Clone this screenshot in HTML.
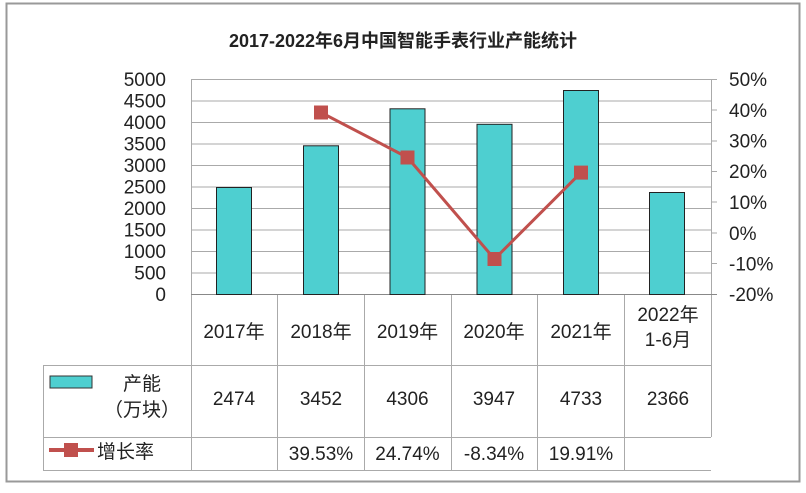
<!DOCTYPE html>
<html><head><meta charset="utf-8"><style>
body{margin:0;background:#fff;}
svg text{font-family:"Liberation Sans","Noto Sans CJK SC",sans-serif;fill:#222;}
</style></head><body>
<svg width="806" height="488" xmlns="http://www.w3.org/2000/svg">
<rect x="0" y="0" width="806" height="488" fill="#fff"/>
<rect x="6.5" y="3.5" width="793" height="478" fill="none" stroke="#999" stroke-width="2"/>
<text x="403" y="47" text-anchor="middle" font-size="18" font-weight="bold">2017-2022年6月中国智能手表行业产能统计</text>
<g stroke="#aaa" stroke-width="1">
<line x1="191" y1="79.5" x2="711" y2="79.5"/>
<line x1="191" y1="101" x2="711" y2="101"/>
<line x1="191" y1="122.5" x2="711" y2="122.5"/>
<line x1="191" y1="144" x2="711" y2="144"/>
<line x1="191" y1="165.5" x2="711" y2="165.5"/>
<line x1="191" y1="187" x2="711" y2="187"/>
<line x1="191" y1="208.5" x2="711" y2="208.5"/>
<line x1="191" y1="230" x2="711" y2="230"/>
<line x1="191" y1="251.5" x2="711" y2="251.5"/>
<line x1="191" y1="273" x2="711" y2="273"/>
<line x1="191.5" y1="79" x2="191.5" y2="470"/>
<line x1="711.5" y1="79" x2="711.5" y2="437"/>
<line x1="711" y1="79.5" x2="717" y2="79.5"/>
<line x1="711" y1="110" x2="717" y2="110"/>
<line x1="711" y1="141" x2="717" y2="141"/>
<line x1="711" y1="171.5" x2="717" y2="171.5"/>
<line x1="711" y1="202" x2="717" y2="202"/>
<line x1="711" y1="233" x2="717" y2="233"/>
<line x1="711" y1="263.5" x2="717" y2="263.5"/>
<line x1="43.5" y1="365" x2="43.5" y2="470"/>
<line x1="43" y1="365.5" x2="711" y2="365.5"/>
<line x1="43" y1="437.5" x2="711" y2="437.5"/>
<line x1="43" y1="470.5" x2="711" y2="470.5"/>
<line x1="277.5" y1="294" x2="277.5" y2="470"/>
<line x1="364.5" y1="294" x2="364.5" y2="470"/>
<line x1="451.5" y1="294" x2="451.5" y2="470"/>
<line x1="537.5" y1="294" x2="537.5" y2="470"/>
<line x1="624.5" y1="294" x2="624.5" y2="470"/>
</g>
<line x1="191" y1="294.5" x2="717" y2="294.5" stroke="#888"/>
<g fill="#4ecfd0" stroke="#222" stroke-width="1">
<rect x="216.5" y="187.5" width="35" height="107"/>
<rect x="303.5" y="145.8" width="35" height="148.7"/>
<rect x="390" y="108.8" width="35" height="185.7"/>
<rect x="477" y="124.3" width="35" height="170.2"/>
<rect x="563.5" y="90.5" width="35" height="204"/>
<rect x="649.5" y="192.5" width="35" height="102"/>
</g>
<polyline points="321,112.5 407.5,157.5 494.5,259 581,172.6" fill="none" stroke="#c0504d" stroke-width="3"/>
<g fill="#c0504d">
<rect x="314" y="105.5" width="14" height="14"/>
<rect x="400.5" y="150.5" width="14" height="14"/>
<rect x="487.5" y="252" width="14" height="14"/>
<rect x="574" y="165.6" width="14" height="14"/>
</g>
<g font-size="19" text-anchor="end">
<text x="166" y="86">5000</text><text x="166" y="107.5">4500</text><text x="166" y="129">4000</text>
<text x="166" y="150.5">3500</text><text x="166" y="172">3000</text><text x="166" y="193.5">2500</text>
<text x="166" y="215">2000</text><text x="166" y="236.5">1500</text><text x="166" y="258">1000</text>
<text x="166" y="279.5">500</text><text x="166" y="301">0</text>
</g>
<g font-size="19">
<text x="729" y="86">50%</text><text x="729" y="117">40%</text><text x="729" y="147.5">30%</text>
<text x="729" y="178">20%</text><text x="729" y="209">10%</text><text x="729" y="240">0%</text>
<text x="729" y="270.5">-10%</text><text x="729" y="301">-20%</text>
</g>
<g font-size="19" text-anchor="middle">
<text x="234" y="338">2017年</text><text x="321" y="338">2018年</text><text x="407.5" y="338">2019年</text>
<text x="494" y="338">2020年</text><text x="581" y="338">2021年</text>
<text x="668" y="321">2022年</text><text x="668" y="346">1-6月</text>
<text x="234" y="405">2474</text><text x="321" y="405">3452</text><text x="407.5" y="405">4306</text>
<text x="494" y="405">3947</text><text x="581" y="405">4733</text><text x="668" y="405">2366</text>
<text x="321" y="460">39.53%</text><text x="407.5" y="460">24.74%</text>
<text x="494" y="460">-8.34%</text><text x="581" y="460">19.91%</text>
<text x="142" y="390">产能</text><text x="142" y="416">（万块）</text>
</g>
<rect x="50" y="376" width="42" height="12" fill="#4ecfd0" stroke="#333"/>
<line x1="49" y1="450" x2="94" y2="450" stroke="#c0504d" stroke-width="4"/>
<rect x="64" y="443" width="14" height="14" fill="#c0504d"/>
<text x="97" y="458" font-size="19">增长率</text>
</svg>
</body></html>
